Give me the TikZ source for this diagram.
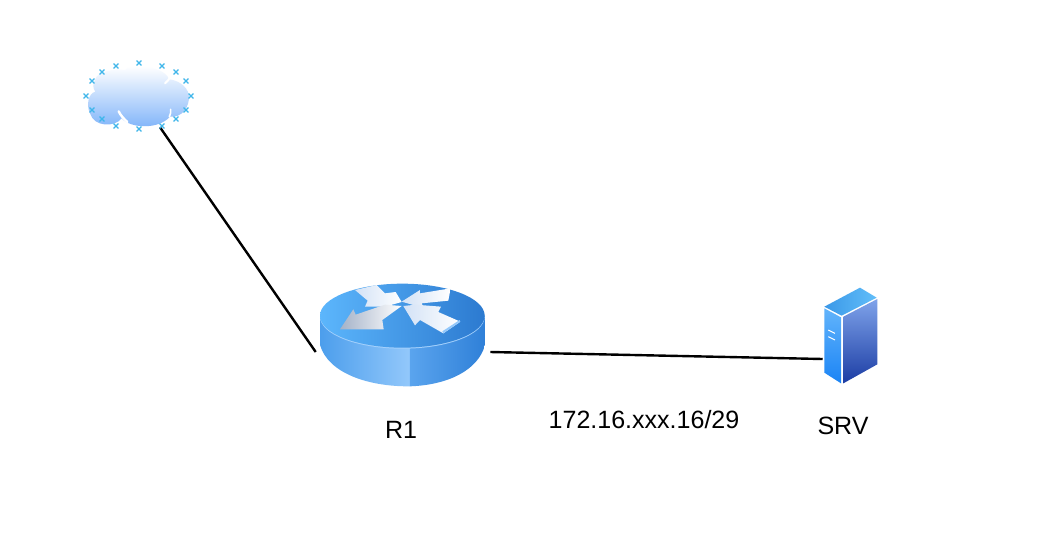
\documentclass[tikz,border=0pt]{standalone}
\usepackage{xcolor}
\usepackage{fontspec}
\setmainfont{Liberation Sans}
\usetikzlibrary{positioning, calc}

\definecolor{crossblue}{HTML}{3FB6EA}
\definecolor{cloudblue}{HTML}{7DB2F9}
\definecolor{topleft}{HTML}{5CB6FC}
\definecolor{topright}{HTML}{2C7AD0}
\definecolor{bodyleft}{HTML}{4C9EEC}
\definecolor{bodylight}{HTML}{93C8FB}
\definecolor{bodymid}{HTML}{5AA4EE}
\definecolor{bodyright}{HTML}{2F80D8}
\definecolor{arrowpale}{HTML}{D3E2F6}
\definecolor{arrowdark}{HTML}{A4B2C8}
\definecolor{srvtopa}{HTML}{3A98E8}
\definecolor{srvtopb}{HTML}{62BEF9}
\definecolor{srvfronta}{HTML}{62B4FB}
\definecolor{srvfrontb}{HTML}{1B84F5}
\definecolor{srvsidea}{HTML}{7FA3EA}
\definecolor{srvsideb}{HTML}{1C3DA4}

\tikzset{
    hub/.style={inner sep=0pt, minimum width=#1},
    wire/.style={draw=black, line width=0.06cm},
    caption/.style={font=\fontsize{17.8}{20}\selectfont, inner sep=0pt},
}

\begin{document}
\begin{tikzpicture}[x=0.025cm, y=-0.025cm]
    \useasboundingbox (0,0) rectangle (1052,533);
    \fill[white] (0,0) rectangle (1052,533);

    % 1. Anchor nodes for the connectors
    \node[hub=10pt, minimum height=60*0.025cm] (cloud) at (160,97) {};
    \node[hub=174*0.025cm, minimum height=2cm] (router) at (403,352) {};
    \node[hub=54*0.025cm, minimum height=2cm] (server) at (850,359) {};

    % 2. Connectors
    \draw[wire] (cloud.south) -- (router.west);
    \draw[wire] (router.east) -- (server.west);

    % 3. Cloud
    \begin{scope}[shift={(70,50)}, scale=0.3333]
        \shade[top color=white, bottom color=cloudblue]
            (215,50) .. controls (190,48) and (170,52) .. (165,60)
            .. controls (135,55) and (80,65) .. (76,88)
            .. controls (68,100) and (68,115) .. (76,125)
            .. controls (55,130) and (48,165) .. (60,190)
            .. controls (72,232) and (135,232) .. (155,205)
            .. controls (180,235) and (265,240) .. (300,200)
            .. controls (335,205) and (360,170) .. (357,135)
            .. controls (350,105) and (320,90) .. (297,88)
            .. controls (290,65) and (250,50) .. (215,50) -- cycle;
        \draw[white, line width=0.06cm, line cap=round]
            (146,184) .. controls (152,196) and (160,205) .. (172,216);
        \draw[white, line width=0.05cm, line cap=round]
            (285,100) .. controls (292,95) and (297,88) .. (303,78);
        \draw[white, line width=0.04cm, line cap=round]
            (302,178) .. controls (303,186) and (302,193) .. (298,200);
    \end{scope}

    % Selection marks round the cloud
    \foreach \mx/\my in {139/63, 162/66, 176/72, 186/81, 191/96, 186/110, 176/119, 162/126,
                         139/129, 116/126, 102/119, 92/110, 86/96, 92/81, 102/72, 116/66} {
        \draw[crossblue, line width=0.035cm]
            (\mx-2.4,\my-2.4) -- (\mx+2.4,\my+2.4)
            (\mx-2.4,\my+2.4) -- (\mx+2.4,\my-2.4);
    }

    % 4. Router
    \begin{scope}[shift={(305,270)}, scale=0.3333]
        % Body, split at the light band
        \shade[left color=bodyleft, right color=bodylight]
            (45,137) -- (45,225) .. controls (70,310) and (190,350) .. (315,349) -- (315,137) -- cycle;
        \shade[left color=bodymid, right color=bodyright]
            (315,137) -- (315,349) .. controls (430,345) and (520,300) .. (540,225) -- (540,137) -- cycle;
        % Top face
        \fill[bodylight!85!white] (292,140) ellipse (247 and 96);
        \shade[left color=topleft, right color=topright] (292,137) ellipse (247 and 96);

        % Arrows
        \shade[left color=arrowpale, right color=white] (150,60) -- (215,45) -- (240,70) -- (272,66) -- (290,96)
            -- (240,110) -- (180,110) -- (188,92) -- cycle;
        \shade[left color=arrowdark, right color=white] (105,178) -- (145,118) -- (152,134) -- (240,104) -- (290,108)
            -- (232,150) -- (236,178) -- cycle;
        \shade[left color=arrowpale, right color=white]
            (437,55) -- (430,92) -- (350,100) -- (356,114) -- (290,95) -- (345,60) -- (345,70) -- cycle;
        \shade[left color=arrowpale, right color=white]
            (295,108) -- (332,104) -- (408,110) -- (400,126) -- (466,155) -- (415,190)
            -- (345,150) -- (330,166) -- cycle;
        \fill[bodylight] (415,190) -- (466,155) -- (464,150) -- (412,184) -- cycle;
    \end{scope}

    % 5. Server
    \begin{scope}[shift={(805,275)}, scale=0.3333]
        \shade[left color=srvtopa, right color=srvtopb]
            (58,95) -- (165,38) -- (215,68) -- (110,122) -- cycle;
        \shade[top color=srvfronta, bottom color=srvfrontb]
            (58,100) -- (108,127) -- (108,325) -- (58,293) -- cycle;
        \shade[top color=srvsidea, bottom color=srvsideb]
            (115,125) -- (217,72) -- (217,268) -- (115,325) -- cycle;
        \draw[white, line width=0.025cm] (70,165) -- (90,175) (70,185) -- (90,195);
    \end{scope}

    % 6. Labels
    \node[caption] (r1label) at (401,430) {R1};
    \node[caption] (srvlabel) at (843,426) {SRV};
    \node[caption] (netlabel) at (644,420) {172.16.xxx.16/29};

\end{tikzpicture}
\end{document}
